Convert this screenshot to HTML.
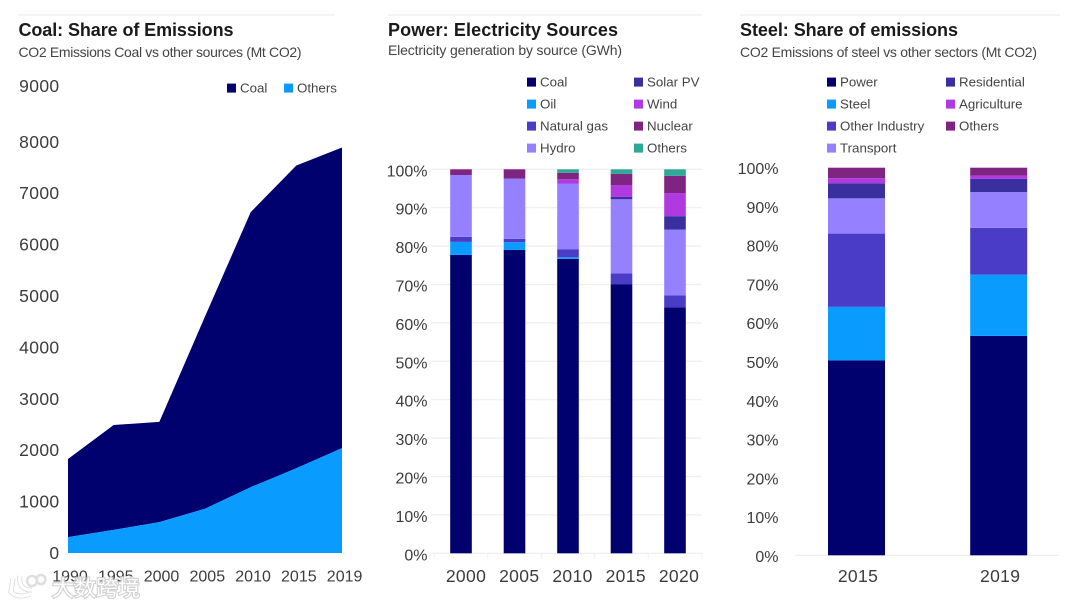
<!DOCTYPE html>
<html lang="en">
<head>
<meta charset="utf-8">
<title>Share of Emissions Charts</title>
<style>
html,body{margin:0;padding:0;background:#fff;width:1080px;height:607px;overflow:hidden}
svg{display:block;font-family:"Liberation Sans","Noto Sans CJK SC",sans-serif}
.title{font-size:18px;font-weight:700;fill:#1a1a1a}
.sub{font-size:14px;fill:#444}
.tick{font-size:17.5px;letter-spacing:0.35px;fill:#3c3c3c}
.tick-sm{font-size:16px;fill:#3c3c3c}
.leg{font-size:13.3px;fill:#444}
</style>
</head>
<body>
<svg id="root" width="1080" height="607" viewBox="0 0 1080 607" xmlns="http://www.w3.org/2000/svg">
  <rect width="1080" height="607" fill="#fff"/>
  <line x1="18" x2="335" y1="15" y2="15" stroke="#eeeeee" stroke-width="1.2"/>
  <line x1="388" x2="702" y1="15" y2="15" stroke="#eeeeee" stroke-width="1.2"/>
  <line x1="740" x2="1060" y1="15" y2="15" stroke="#eeeeee" stroke-width="1.2"/>
  <text class="title" x="18.5" y="36" textLength="215">Coal: Share of Emissions</text>
  <text class="sub" x="18.5" y="57" textLength="283">CO2 Emissions Coal vs other sources (Mt CO2)</text>
  <text class="title" x="388" y="36" textLength="230">Power: Electricity Sources</text>
  <text class="sub" x="388" y="55" textLength="234">Electricity generation by source (GWh)</text>
  <text class="title" x="740" y="36" textLength="218">Steel: Share of emissions</text>
  <text class="sub" x="740" y="57" textLength="297">CO2 Emissions of steel vs other sectors (Mt CO2)</text>
  <g id="coal-chart"></g>
  <g id="power-chart"></g>
  <g id="steel-chart"></g>
  <g opacity="0.9">
    <g fill="none" stroke="#ffffff" stroke-width="3.5">
      <path d="M13 578 L11 592 Q18 599 30 594 M20 576 Q18 590 32 590" stroke="#d2d2d2" stroke-width="5"/>
      <path d="M13 578 L11 592 Q18 599 30 594 M20 576 Q18 590 32 590"/>
      <circle cx="32" cy="581" r="5" stroke="#dcdcdc" stroke-width="2.5"/>
      <circle cx="41" cy="579.5" r="4.5" stroke="#dcdcdc" stroke-width="2.5"/>
    </g>
    <text x="52" y="596" font-size="22" fill="#ffffff" stroke="#cccccc" stroke-width="2.2" paint-order="stroke">大数跨境</text>
  </g>
</svg>
<script>
/* ---------- Coal area chart data ---------- */
const coalYears = ["1990","1995","2000","2005","2010","2015","2019"];
const coalSeriesCoal = [1520,2040,1950,3740,5350,5890,5850];
const coalSeriesOthers = [310,450,600,860,1280,1650,2040];
const coalTicks = [0,1000,2000,3000,4000,5000,6000,7000,8000,9000];

/* ---------- Power stacked chart data (percent) ---------- */
const powerYears = ["2000","2005","2010","2015","2020"];
const powerCoal = [77.7,79.0,76.7,70.0,64.0];
const powerOil = [3.4,2.0,0.4,0,0];
const powerGas = [1.3,0.9,2.1,2.9,3.2];
const powerHydro = [16.1,15.7,17.1,19.3,17.1];
const powerSolar = [0,0,0,0.6,3.5];
const powerWind = [0,0,1.1,3.1,6.0];
const powerNuclear = [1.5,2.4,1.7,2.9,4.5];
const powerOthers = [0,0,0.9,1.2,1.7];
const powerTicks = [0,10,20,30,40,50,60,70,80,90,100];

/* ---------- Steel stacked chart data (percent) ---------- */
const steelYears = ["2015","2019"];
const steelPower = [50.3,56.6];
const steelSteel = [13.8,15.8];
const steelOtherIndustry = [18.9,12.1];
const steelTransport = [9.1,9.2];
const steelResidential = [3.9,3.4];
const steelAgriculture = [1.3,0.9];
const steelOthers = [2.7,2.0];
const steelTicks = [0,10,20,30,40,50,60,70,80,90,100];

const NAVY="#00006e",BLUE="#0a9bff",INDIGO="#4a3cc6",LILAC="#9580ff",DEEP="#3a2f9e",VIOLET="#b03ae0",PLUM="#7f2480",TEAL="#2fa896";

const NS="http://www.w3.org/2000/svg";
function mk(parent,tag,attrs,txt){
  const e=document.createElementNS(NS,tag);
  for(const k in attrs)e.setAttribute(k,attrs[k]);
  if(txt!==undefined)e.textContent=txt;
  parent.appendChild(e);
  return e;
}
function slug(s){return String(s).toLowerCase().replace(/[^a-z0-9]+/g,'-');}

function legendEntry(g,prefix,name,color,sx,ty){
  const s=mk(g,'rect',{x:sx,y:ty-4.4,width:9,height:9,fill:color});
  
  
  const t=mk(g,'text',{x:sx+13,y:ty+4.6,class:'leg'},name);
  
  
}

/* Coal chart */
(function(){
  const g=document.getElementById('coal-chart');
  const x0=68,dx=(342-68)/(coalYears.length-1),y0=553,k=0.0514;
  const X=i=>x0+i*dx,Y=v=>y0-v*k;
  const totals=coalSeriesCoal.map((v,i)=>v+coalSeriesOthers[i]);
  const top=coalYears.map((_,i)=>X(i)+','+Y(totals[i])).join(' ');
  const mid=coalYears.map((_,i)=>X(i)+','+Y(coalSeriesOthers[i])).reverse().join(' ');
  const a=mk(g,'polygon',{points:top+' '+mid,fill:NAVY});
  
  
  const b=mk(g,'polygon',{points:X(0)+','+y0+' '+coalYears.map((_,i)=>X(i)+','+Y(coalSeriesOthers[i])).join(' ')+' '+X(coalYears.length-1)+','+y0,fill:BLUE});
  
  
  coalTicks.forEach((v,i)=>{
    const off=(i===coalTicks.length-1)?1.5:6;
    const t=mk(g,'text',{x:59.5,y:Y(v)+off,'text-anchor':'end',class:'tick'},String(v));
    
    
  });
  coalYears.forEach((v,i)=>{
    const t=mk(g,'text',{x:X(i)+2+i*0.1,y:581.5,'text-anchor':'middle',class:'tick-sm'},v);
    
    
  });
  legendEntry(g,'coal','Coal',NAVY,227,88);
  legendEntry(g,'coal','Others',BLUE,284,88);
})();

function stacked(gid,prefix,cats,series,colors,names,opt){
  const g=document.getElementById(gid);
  const Y=v=>opt.y0-v*opt.k;
  const X=i=>opt.c0+i*opt.band;
  opt.ticks.forEach(v=>{
    if(opt.grid||v===0){
      const l=mk(g,'line',{x1:opt.gx1,x2:opt.gx2,y1:Y(v),y2:Y(v),stroke:'#eeeef2','stroke-width':1.2});
      
      
    }
    const t=mk(g,'text',{x:opt.lx,y:Y(v)+opt.ly,'text-anchor':'end',class:'tick-sm'},v+'%');
    
    
  });
  if(opt.axisTicks){
    for(let i=0;i<=cats.length;i++){
      const px=opt.c0-opt.band/2+i*opt.band;
      const l=mk(g,'line',{x1:px,x2:px,y1:opt.y0,y2:opt.y0+6,stroke:'#f0f0f3','stroke-width':1});
      
      
    }
  }
  cats.forEach((c,i)=>{
    let acc=0;
    series.forEach((s,j)=>{
      const v=s[i];
      if(v>0){
        const r=mk(g,'rect',{x:X(i)-opt.bw/2,y:Y(acc+v),width:opt.bw,height:v*opt.k,fill:colors[j]});
        
        
      }
      acc+=v;
    });
    const t=mk(g,'text',{x:X(i)+opt.labelDx+i*opt.labelDrift,y:582,'text-anchor':'middle',class:'tick'},c);
    
    
  });
  names.forEach((n,j)=>{
    const col=j<opt.perCol?0:1;
    const row=col?j-opt.perCol:j;
    legendEntry(g,prefix,n,colors[j],opt.lgx[col],82+row*22);
  });
}

stacked('power-chart','power',powerYears,
  [powerCoal,powerOil,powerGas,powerHydro,powerSolar,powerWind,powerNuclear,powerOthers],
  [NAVY,BLUE,INDIGO,LILAC,DEEP,VIOLET,PLUM,TEAL],
  ['Coal','Oil','Natural gas','Hydro','Solar PV','Wind','Nuclear','Others'],
  {y0:553.3,k:3.84,c0:461,band:53.5,bw:21.6,gx1:431,gx2:702,lx:427.5,ly:7,grid:true,axisTicks:true,ticks:powerTicks,labelDx:5,labelDrift:-0.25,perCol:4,lgx:[527,634]});

stacked('steel-chart','steel',steelYears,
  [steelPower,steelSteel,steelOtherIndustry,steelTransport,steelResidential,steelAgriculture,steelOthers],
  [NAVY,BLUE,INDIGO,LILAC,DEEP,VIOLET,PLUM],
  ['Power','Steel','Other Industry','Transport','Residential','Agriculture','Others'],
  {y0:555.3,k:3.876,c0:856.5,band:142.2,bw:57,gx1:795,gx2:1059,lx:778.5,ly:6.5,grid:false,axisTicks:false,ticks:steelTicks,labelDx:1.5,labelDrift:0,perCol:4,lgx:[827,946]});
</script>
</body>
</html>
